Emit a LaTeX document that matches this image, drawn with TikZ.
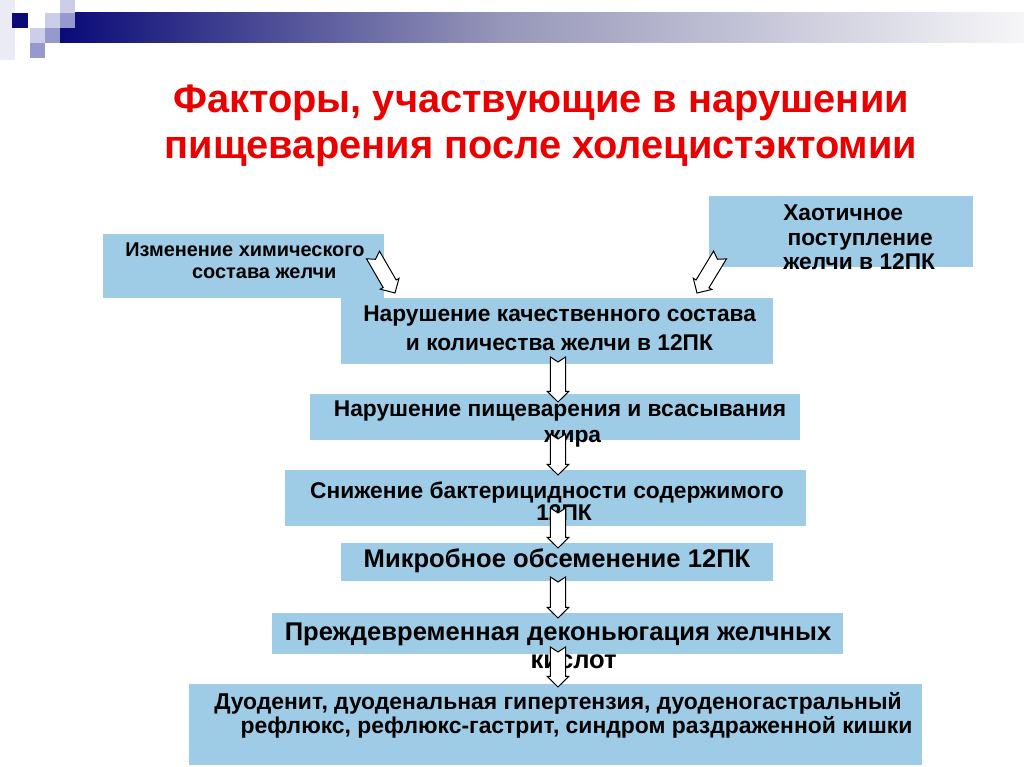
\documentclass[tikz,border=0pt]{standalone}
\usepackage{fontspec}
\setmainfont{Liberation Sans}
\usetikzlibrary{calc,fit}
\definecolor{boxblue}{RGB}{158,204,230}
\definecolor{navy}{RGB}{10,10,120}
\definecolor{lav}{RGB}{204,206,232}
\definecolor{midlav}{RGB}{150,152,206}
\definecolor{titlered}{RGB}{235,0,0}
\definecolor{barmid}{RGB}{150,150,185}
\definecolor{barend}{RGB}{246,246,248}
\tikzset{
  box/.style={fill=boxblue, draw=none, inner sep=0pt},
  txt/.style={inner sep=0pt, font=\bfseries, text=black},
  barrow/.style={draw=black, fill=white, line width=0.7pt, line join=miter},
}
\newcommand\blockarr[2]{%
  \coordinate (bat) at (#1);
  \coordinate (bah) at (#2);
  \coordinate (bam) at ($(bah)!7.5pt!(bat)$);
  \draw[barrow] ($(bat)!5.3pt!90:(bah)$) -- ($(bat)!3.5pt!(bah)$) -- ($(bat)!5.3pt!-90:(bah)$)
    -- ($(bam)!5.3pt!-90:(bah)$) -- ($(bam)!7.6pt!-90:(bah)$) -- (bah)
    -- ($(bam)!7.6pt!90:(bah)$) -- ($(bam)!5.3pt!90:(bah)$) -- cycle;
}
\begin{document}
\begin{tikzpicture}[x=0.703125pt,y=-0.703125pt]
\useasboundingbox (0,0) rectangle (1024,767);
\fill[white] (0,0) rectangle (1024,767);
% header decoration
\shade[left color=navy, right color=barmid] (60,13) rectangle (500,43);
\shade[left color=barmid, right color=barend] (499.5,13) rectangle (1024,43);
\fill[lav!40] (0,0) rectangle (15,60);
\fill[navy] (12,13) rectangle (28,28);
\fill[lav] (45,13) rectangle (60,28);
\fill[lav] (60,0) rectangle (75,13);
\fill[midlav] (60,13) rectangle (75,28);
\fill[lav] (30,28) rectangle (45,43);
\fill[midlav] (45,28) rectangle (60,43);
\fill[midlav] (30,43) rectangle (45,58);
% title
\node[txt, text=titlered, align=center, font=\bfseries\fontsize{28}{32.3}\selectfont] (title) at (541,126)
  {Факторы, участвующие в нарушении\\пищеварения после холецистэктомии};
% boxes
\node[box, fit={(103,234) (384,298)}] (b1) {};
\node[box, fit={(709,196) (973,267)}] (b2) {};
\node[box, fit={(341,298) (773,364)}] (b3) {};
\node[box, fit={(310,394) (800,440)}] (b4) {};
\node[box, fit={(285,470) (806,526)}] (b5) {};
\node[box, fit={(341,543) (773,581)}] (b6) {};
\node[box, fit={(272,613) (843,654)}] (b7) {};
\node[box, fit={(189,684) (922,765)}] (b8) {};
% texts
\node[txt, anchor=west, align=left, font=\bfseries\fontsize{14}{15.5}\selectfont] (t1) at (125,261)
  {Изменение химического\\\hspace*{47pt}состава желчи};
\node[txt, anchor=west, align=left, font=\bfseries\fontsize{16}{17.2}\selectfont] (t2) at (783,237.5)
  {Хаотичное\\\hspace*{3pt}поступление\\желчи в 12ПК};
\node[txt, anchor=west, align=left, font=\bfseries\fontsize{16}{20.4}\selectfont] (t3) at (363,328.5)
  {Нарушение качественного состава\\\hspace*{30pt}и количества желчи в 12ПК};
\node[txt, align=center, font=\bfseries\fontsize{16}{18.3}\selectfont] (t4) at (560,424)
  {Нарушение пищеварения и всасывания\\\hspace*{18pt}жира};
\node[txt, align=center, font=\bfseries\fontsize{16}{15.5}\selectfont] (t5) at (547,501)
  {Снижение бактерицидности содержимого\\\hspace*{24pt}12ПК};
\node[txt, align=center, font=\bfseries\fontsize{18}{20}\selectfont] (t6) at (557,561)
  {Микробное обсеменение 12ПК};
\node[txt, align=center, font=\bfseries\fontsize{18}{19.7}\selectfont] (t7) at (558,646)
  {Преждевременная деконьюгация желчных\\\hspace*{22pt}кислот};
\node[txt, align=center, font=\bfseries\fontsize{16.1}{16.9}\selectfont] (t8) at (558,715)
  {Дуоденит, дуоденальная гипертензия, дуоденогастральный\\\hspace*{26pt}рефлюкс, рефлюкс-гастрит, синдром раздраженной кишки};
% arrows
\coordinate (a1t) at (373,255);  \coordinate (a1h) at (395,293);
\coordinate (a2t) at (720,255);  \coordinate (a2h) at (697,293);
\coordinate (a3t) at (558,357);  \coordinate (a3h) at (558,402);
\coordinate (a4t) at (558,434);  \coordinate (a4h) at (558,475);
\coordinate (a5t) at (558,508);  \coordinate (a5h) at (558,548);
\coordinate (a6t) at (558,577);  \coordinate (a6h) at (558,618);
\coordinate (a7t) at (558,647);  \coordinate (a7h) at (558,687);
\blockarr{a1t}{a1h}
\blockarr{a2t}{a2h}
\blockarr{a3t}{a3h}
\blockarr{a4t}{a4h}
\blockarr{a5t}{a5h}
\blockarr{a6t}{a6h}
\blockarr{a7t}{a7h}
\end{tikzpicture}
\end{document}
